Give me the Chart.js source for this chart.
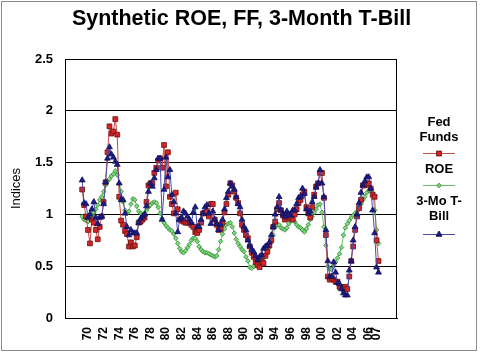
<!DOCTYPE html>
<html><head><meta charset="utf-8">
<script src="https://cdn.jsdelivr.net/npm/chart.js@4"></script>
<style>html,body{margin:0;padding:0;background:#fff}#wrap{position:relative;width:480px;height:356px}</style>
</head><body><div id="wrap"><canvas id="c" width="480" height="356"></canvas></div>
<script>
const startYear = 1969.25;
const periodsPerYear = 4;
const seriesNames = ['Fed Funds', 'ROE', '3-Mo T-Bill'];
const fedFunds = [
1.24,1.09,0.98,0.85,0.72,0.95,0.92,0.85,0.76,0.88,
0.98,1.12,1.31,1.60,1.85,1.78,1.80,1.92,1.77,1.17,
0.94,0.90,0.84,0.81,0.69,0.73,0.69,0.70,0.78,0.92,
0.93,0.95,0.97,1.12,1.28,1.30,1.30,1.40,1.45,1.52,
1.54,1.45,1.67,1.27,1.60,1.17,1.10,1.01,1.21,1.05,
0.95,0.94,0.93,0.92,0.92,0.92,0.90,0.88,0.83,0.82,
0.85,0.92,1.01,1.01,1.03,0.98,1.10,1.10,0.95,0.90,
0.85,0.86,0.92,1.02,1.10,1.19,1.30,1.28,1.22,1.16,
1.11,1.01,0.90,0.85,0.80,0.77,0.69,0.63,0.59,0.54,
0.51,0.49,0.54,0.53,0.60,0.64,0.70,0.75,0.88,0.93,
1.05,1.11,1.04,0.99,0.95,0.97,0.99,0.96,0.95,1.00,
1.05,1.11,1.14,1.19,1.22,1.07,1.01,0.97,1.07,1.19,
1.27,1.30,1.40,1.40,1.16,0.80,0.40,0.37,0.39,0.37,
0.35,0.35,0.30,0.30,0.28,0.30,0.28,0.40,0.55,0.69,
0.85,0.98,1.06,1.14,1.28,1.28,1.30,1.30,1.25,1.19,
1.17,0.75,0.55];
const roe = [
0.98,0.95,0.94,0.93,0.96,0.99,1.02,1.05,1.09,1.14,
1.17,1.22,1.28,1.32,1.34,1.37,1.39,1.42,1.38,1.30,
1.22,1.12,1.04,1.01,1.03,1.10,1.15,1.14,1.08,1.03,
1.01,1.00,1.01,1.04,1.07,1.09,1.11,1.12,1.11,1.07,
1.01,0.96,0.92,0.89,0.87,0.85,0.84,0.81,0.77,0.72,
0.67,0.64,0.63,0.65,0.68,0.71,0.75,0.77,0.77,0.74,
0.69,0.66,0.64,0.63,0.63,0.62,0.61,0.60,0.59,0.60,
0.66,0.74,0.81,0.86,0.90,0.91,0.92,0.88,0.82,0.76,
0.72,0.69,0.66,0.64,0.59,0.55,0.49,0.48,0.50,0.52,
0.54,0.55,0.57,0.58,0.61,0.65,0.68,0.74,0.80,0.88,
0.90,0.90,0.87,0.86,0.85,0.87,0.91,0.94,0.95,0.93,
0.90,0.88,0.87,0.85,0.83,0.86,0.90,0.95,0.98,1.02,
1.05,1.09,1.10,1.02,0.88,0.70,0.50,0.47,0.47,0.51,
0.54,0.58,0.62,0.68,0.80,0.87,0.91,0.94,0.97,0.99,
1.01,1.03,1.07,1.10,1.14,1.17,1.21,1.23,1.25,1.21,
1.04,0.85,0.72];
const tBill = [
1.33,1.11,1.10,0.97,1.00,1.05,1.12,0.97,0.91,0.97,
0.98,1.10,1.31,1.54,1.65,1.58,1.55,1.51,1.48,1.30,
1.14,1.14,1.01,0.88,0.80,0.85,0.82,0.82,0.82,0.92,
0.96,0.98,1.00,1.08,1.22,1.30,1.27,1.35,1.43,1.54,
1.54,0.95,1.24,1.55,1.36,1.43,1.19,1.12,1.01,0.83,
0.95,0.97,1.03,1.01,0.98,0.95,0.92,1.02,1.07,0.88,
0.88,0.95,1.01,1.07,1.09,1.01,0.91,1.03,0.95,0.91,
0.85,0.90,0.95,1.05,1.16,1.22,1.30,1.27,1.24,1.17,
1.10,1.07,0.95,0.88,0.85,0.75,0.70,0.66,0.64,0.60,
0.56,0.59,0.61,0.67,0.69,0.70,0.73,0.80,0.88,1.00,
1.07,1.17,1.04,1.00,0.98,1.03,1.00,0.99,1.04,1.04,
1.10,1.16,1.17,1.25,1.20,1.05,1.01,1.03,1.12,1.17,
1.26,1.30,1.43,1.30,1.17,0.85,0.55,0.40,0.40,0.54,
0.44,0.34,0.33,0.28,0.24,0.22,0.22,0.46,0.55,0.75,
0.88,1.00,1.11,1.21,1.28,1.32,1.36,1.36,1.25,1.04,
0.82,0.49,0.44];
const tickYears = [1970,1972,1974,1976,1978,1980,1982,1984,1986,1988,1990,1992,1994,1996,1998,2000,2002,2004,2006,2007];
const tickLabels = ['70','72','74','76','78','80','82','84','86','88','90','92','94','96','98','00','02','04','06','07'];
const yTickValues = [0,0.5,1,1.5,2,2.5];
const yTickLabels = ['0','0.5','1','1.5','2','2.5'];

const FONT = 'Arial, "Liberation Sans", sans-serif';
const toPoints = arr => arr.map((v, i) => ({x: startYear + i / periodsPerYear, y: v}));

const styles = [
  {line:'#c84a4a', fill:'#d42626', edge:'#6a1010', shape:'rect', r:3.4},
  {line:'#64c464', fill:'#80d880', edge:'#2e8a2e', shape:'rectRot', r:2.3},
  {line:'#4a4aa8', fill:'#1c1c86', edge:'#10105a', shape:'triangle', r:3.4}
];
const seriesData = [fedFunds, roe, tBill];
const orders = [2, 3, 1];

const frame = {
  id: 'frame',
  beforeDatasetsDraw(chart) {
    const {ctx, chartArea: a} = chart;
    ctx.save();
    ctx.strokeStyle = '#000';
    ctx.lineWidth = 1;
    ctx.strokeRect(Math.round(a.left) + 0.5, Math.round(a.top) + 0.5, Math.round(a.right - a.left) - 1, Math.round(a.bottom - a.top));
    ctx.restore();
  },
  afterDraw(chart) {
    const ctx = chart.ctx;
    ctx.save();
    ctx.strokeStyle = '#8c8c8c';
    ctx.lineWidth = 1;
    ctx.strokeRect(1.5, 1.5, 475, 349);
    // legend
    const cx = 439;
    const entries = [
      {lines:['Fed','Funds'], ys:[122,137], ly:153},
      {lines:['ROE'], ys:[169], ly:185},
      {lines:['3-Mo T-','Bill'], ys:[201,216], ly:234}
    ];
    ctx.font = 'bold 13px ' + FONT;
    ctx.fillStyle = '#000';
    ctx.textAlign = 'center';
    ctx.textBaseline = 'middle';
    entries.forEach((e, k) => {
      e.lines.forEach((t, j) => ctx.fillText(t, cx, e.ys[j]));
      const s = styles[k];
      ctx.strokeStyle = s.line;
      ctx.lineWidth = 1;
      ctx.beginPath();
      ctx.moveTo(423, e.ly + 0.5);
      ctx.lineTo(455, e.ly + 0.5);
      ctx.stroke();
      ctx.fillStyle = s.fill;
      ctx.strokeStyle = s.edge;
      Chart.helpers.drawPoint(ctx, {pointStyle: s.shape, radius: s.r, rotation: 0, borderWidth: 0.8}, cx, e.ly + 0.5);
      ctx.fillStyle = '#000';
    });
    ctx.restore();
  }
};

new Chart(document.getElementById('c'), {
  type: 'line',
  data: {
    datasets: seriesNames.map((name, k) => ({
      label: name,
      data: toPoints(seriesData[k]),
      borderColor: styles[k].line,
      borderWidth: 1,
      pointStyle: styles[k].shape,
      pointRadius: styles[k].r,
      pointBackgroundColor: styles[k].fill,
      pointBorderColor: styles[k].edge,
      pointBorderWidth: 0.8,
      tension: 0,
      order: orders[k],
      fill: false,
      xAxisID: 'x',
      yAxisID: 'y'
    }))
  },
  options: {
    responsive: false,
    animation: false,
    devicePixelRatio: 1,
    layout: {padding: {left: 3, right: 0, top: 0, bottom: 0}},
    plugins: {
      legend: {display: false},
      tooltip: {enabled: false},
      title: {
        display: true,
        text: 'Synthetic ROE, FF, 3-Month T-Bill',
        color: '#000',
        font: {family: FONT, size: 21.5, weight: 'bold'},
        padding: {top: 6, bottom: 27.2}
      }
    },
    scales: {
      x: {
        type: 'linear',
        min: 1967.05,
        max: 2009.62,
        grid: {display: false, drawTicks: false},
        border: {display: true, color: '#000', width: 1},
        afterBuildTicks: s => { s.ticks = tickYears.map(v => ({value: v})); },
        afterFit: s => { s.height = 38; },
        ticks: {
          autoSkip: false,
          minRotation: 90,
          maxRotation: 90,
          padding: 9,
          color: '#000',
          font: {family: FONT, size: 12, weight: 'bold'},
          callback: (v, i) => tickLabels[i]
        }
      },
      y: {
        min: 0,
        max: 2.5,
        afterBuildTicks: s => { s.ticks = yTickValues.map(v => ({value: v})); },
        afterFit: s => { s.width = 62; },
        grid: {color: '#000', lineWidth: 1, drawTicks: false},
        border: {display: false},
        ticks: {
          padding: 12,
          color: '#000',
          font: {family: FONT, size: 13, weight: 'bold'},
          callback: (v, i) => yTickLabels[i]
        },
        title: {
          display: true,
          text: 'Indices',
          color: '#000',
          font: {family: FONT, size: 13},
          padding: {top: 6, bottom: 0}
        }
      },
      legendSpace: {
        type: 'linear',
        position: 'right',
        min: 0,
        max: 1,
        grid: {display: false, drawTicks: false},
        border: {display: false},
        ticks: {display: false},
        afterFit: s => { s.width = 83; }
      }
    }
  },
  plugins: [frame]
});
</script>
</body></html>
